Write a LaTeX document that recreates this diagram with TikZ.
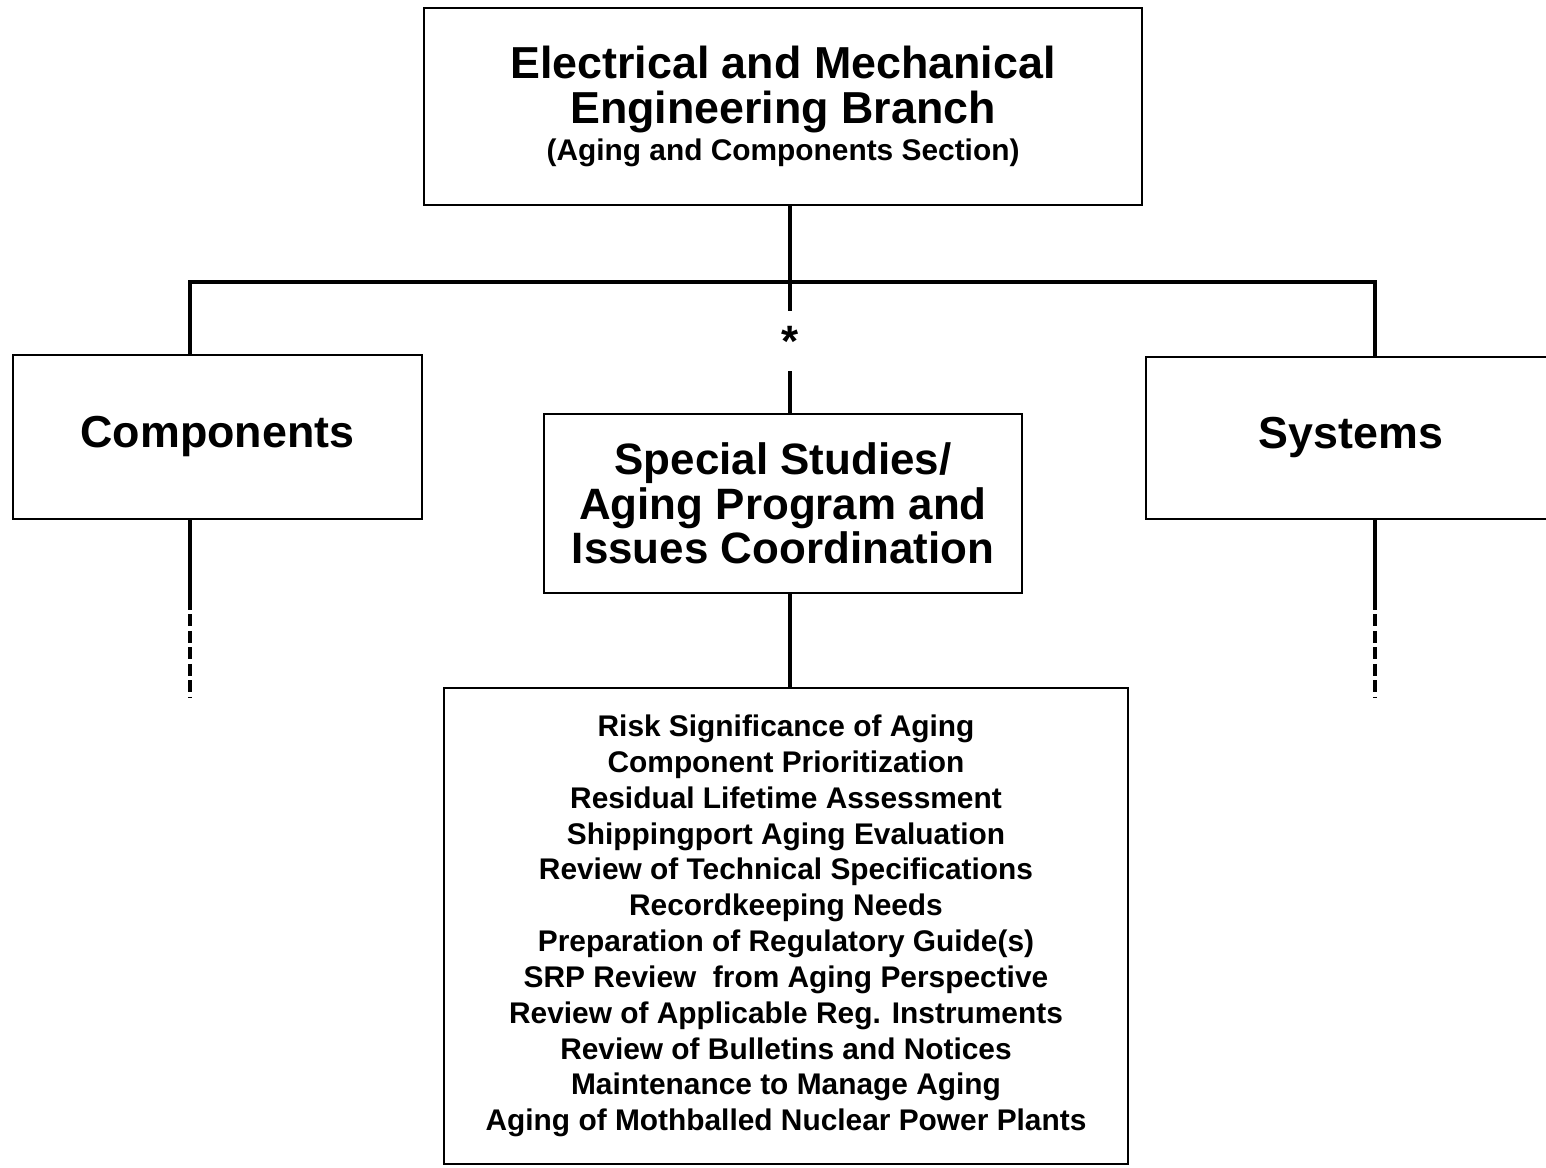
\documentclass[tikz,border=0pt]{standalone}
\usepackage{fontspec}
\setmainfont{Liberation Sans}
\tikzset{
	box/.style={draw, line width=1.6pt, align=center, inner sep=0pt, font=\bfseries\fontsize{25.5}{25.5}\selectfont},
	link/.style={line width=2.2pt},
	trail/.style={line width=2.2pt, dash pattern=on 0.24cm off 0.09cm},
}
\begin{document}
\begin{tikzpicture}[x=0.02cm,y=-0.02cm]
		\useasboundingbox (0,0) rectangle (1546,1168);
		
		\node[box, minimum width=14.36cm, minimum height=3.94cm] (branch) at (783,106.5) {Electrical and Mechanical\\Engineering Branch\\[-4.5pt]{\fontsize{17}{20}\selectfont (Aging and Components Section)}};
		
		\node[box, minimum width=8.18cm, minimum height=3.28cm] (comp) at (217.5,437) {Components};
		\node[box, minimum width=8.2cm, minimum height=3.24cm] (sys) at (1351,438) {Systems};
		\node[box, minimum width=9.56cm, minimum height=3.58cm, font=\bfseries\fontsize{25}{25.5}\selectfont] (special) at (783,503.5) {Special Studies/\\Aging Program and\\Issues Coordination};
		\node[inner sep=0pt, minimum height=1.2cm, font=\bfseries\fontsize{25}{25}\selectfont] (star) at (790,341) {*};
		
		\node[box, minimum width=13.68cm, minimum height=9.52cm, font=\bfseries\fontsize{17}{20.4}\selectfont] (list) at (786,926) {Risk Significance of Aging\\Component Prioritization\\Residual Lifetime Assessment\\Shippingport Aging Evaluation\\Review of Technical Specifications\\Recordkeeping Needs\\Preparation of Regulatory Guide(s)\\SRP Review\ \ from Aging Perspective\\Review of Applicable Reg. Instruments\\Review of Bulletins and Notices\\Maintenance to Manage Aging\\Aging of Mothballed Nuclear Power Plants};
		
		\coordinate (busL) at (190,282);
		\coordinate (busC) at (790,282);
		\coordinate (busR) at (1375,282);
		\coordinate (compMid) at (190,598);
		\coordinate (compEnd) at (190,698);
		\coordinate (sysMid) at (1375,598);
		\coordinate (sysEnd) at (1375,698);
		
		\draw[link] (branch.south -| busC) -- (busC);
		\draw[link] (busL |- comp.north) -- (busL) -- (busR) -- (busR |- sys.north);
		\draw[link] (busC) -- (star.north);
		\draw[link] (star.south) -- (star.south |- special.north);
		\draw[link] (special.south -| star.south) -- (list.north -| star.south);
		
		\draw[link] (comp.south -| compMid) -- (compMid);
		\draw[trail] (compMid) -- (compEnd);
		\draw[link] (sys.south -| sysMid) -- (sysMid);
		\draw[trail] (sysMid) -- (sysEnd);
\end{tikzpicture}
\end{document}
